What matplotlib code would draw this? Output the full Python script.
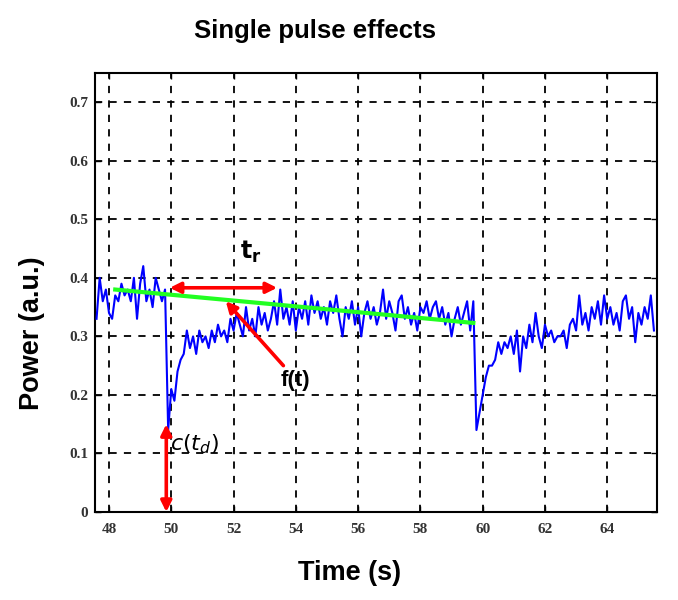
"""Single pulse effects: power trace with recovery fit and annotations."""

import matplotlib
matplotlib.use("Agg")
import matplotlib.pyplot as plt
import numpy as np

# Trace sampled every 0.1 s from 47.6 s to 65.5 s
t_start, t_step = 47.6, 0.1
power = [
    0.33, 0.40, 0.36, 0.38,                                      # 47.6-47.9
    0.34, 0.33, 0.37, 0.36, 0.39, 0.37, 0.38, 0.36, 0.40, 0.33,  # 48
    0.39, 0.42, 0.36, 0.38, 0.35, 0.40, 0.38, 0.36, 0.38, 0.14,  # 49
    0.21, 0.19, 0.24, 0.26, 0.27, 0.31, 0.28, 0.30, 0.27, 0.31,  # 50
    0.29, 0.30, 0.28, 0.31, 0.29, 0.32, 0.30, 0.31, 0.29, 0.33,  # 51
    0.31, 0.34, 0.32, 0.30, 0.35, 0.31, 0.33, 0.30, 0.35, 0.32,  # 52
    0.34, 0.31, 0.33, 0.36, 0.32, 0.38, 0.33, 0.35, 0.32, 0.36,  # 53
    0.31, 0.35, 0.33, 0.36, 0.32, 0.37, 0.34, 0.36, 0.33, 0.35,  # 54
    0.32, 0.36, 0.34, 0.37, 0.33, 0.30, 0.35, 0.33, 0.36, 0.32,  # 55
    0.35, 0.30, 0.34, 0.36, 0.33, 0.35, 0.32, 0.34, 0.38, 0.33,  # 56
    0.36, 0.34, 0.31, 0.36, 0.37, 0.33, 0.35, 0.32, 0.34, 0.31,  # 57
    0.35, 0.34, 0.36, 0.33, 0.35, 0.36, 0.33, 0.35, 0.32, 0.34,  # 58
    0.30, 0.33, 0.35, 0.32, 0.34, 0.36, 0.31, 0.36, 0.14, 0.17,  # 59
    0.20, 0.23, 0.25, 0.25, 0.26, 0.29, 0.27, 0.29, 0.28, 0.30,  # 60
    0.27, 0.31, 0.24, 0.30, 0.28, 0.32, 0.29, 0.34, 0.30, 0.28,  # 61
    0.32, 0.30, 0.31, 0.29, 0.30, 0.30, 0.31, 0.28, 0.32, 0.33,  # 62
    0.31, 0.37, 0.32, 0.34, 0.31, 0.35, 0.33, 0.36, 0.32, 0.37,  # 63
    0.33, 0.35, 0.32, 0.34, 0.31, 0.36, 0.37, 0.33, 0.35, 0.29,  # 64
    0.34, 0.32, 0.35, 0.33, 0.37, 0.31,                          # 65.0-65.5
]
time = t_start + t_step * np.arange(len(power))

# Linear fit f(t) over the recovery window
fit_time = [48.2, 59.7]
fit_power = [0.38, 0.323]

# Annotation anchors (data units)
tr_span = (49.95, 53.4)
tr_level = 0.383
td_time = 49.84
td_depth = (0.0, 0.15)
ft_tail = (53.6, 0.25)
ft_tip = (51.75, 0.36)

x_ticks = [48, 50, 52, 54, 56, 58, 60, 62, 64]
y_ticks = [0, 0.1, 0.2, 0.3, 0.4, 0.5, 0.6, 0.7]

plt.rcParams["mathtext.fontset"] = "dejavusans"

fig = plt.figure(figsize=(6.78, 6.0), dpi=100)
ax = fig.add_axes([0.1401, 0.1467, 0.829, 0.7317])

ax.plot(time, power, color="#0000ff", lw=1.5, zorder=3)
ax.plot(fit_time, fit_power, color="#22ff22", lw=3, zorder=4)

arrow = dict(arrowstyle="<|-|>", color="red", lw=2.6, mutation_scale=16,
             shrinkA=0, shrinkB=0)
ax.annotate("", xy=(tr_span[1], tr_level), xytext=(tr_span[0], tr_level),
            arrowprops=arrow, zorder=5)
ax.annotate("", xy=(td_time, td_depth[1]), xytext=(td_time, td_depth[0]),
            arrowprops=arrow, zorder=5)
ax.annotate("", xy=ft_tip, xytext=ft_tail,
            arrowprops=dict(arrowstyle="-|>", color="red", lw=2.6,
                            mutation_scale=16, shrinkA=0, shrinkB=0),
            zorder=5)

ax.text(52.55, 0.445, r"$\mathbf{t}_{\mathbf{r}}$", fontsize=17,
        ha="center", va="center")
ax.text(54.0, 0.225, "f(t)", fontsize=16, fontweight="bold",
        family="Liberation Sans", ha="center", va="center")
ax.text(49.95, 0.115, r"$c(t_d)$", fontsize=16, ha="left", va="center")

ax.set_xlim(47.55, 65.6)
ax.set_ylim(0, 0.75)
ax.set_xticks(x_ticks)
ax.set_yticks(y_ticks)
ax.set_yticklabels([f"{v:g}" for v in y_ticks])
for lab in ax.get_xticklabels() + ax.get_yticklabels():
    lab.set_family("Liberation Serif")
    lab.set_fontweight("bold")
    lab.set_fontsize(11)
    lab.set_color("#333333")
ax.tick_params(direction="in", top=True, right=True, length=4, width=1)
ax.tick_params(axis="x", pad=8)
ax.tick_params(axis="y", pad=5)
ax.grid(True, color="black", linestyle=(0, (4, 4)), lw=1.3)
for sp in ax.spines.values():
    sp.set_linewidth(1.5)

fig.text(0.515, 0.045, "Time (s)", fontsize=19.5, fontweight="bold",
         family="Liberation Sans", ha="center", va="center")
fig.text(0.047, 0.445, "Power (a.u.)", fontsize=19.5, fontweight="bold",
         family="Liberation Sans", ha="center", va="center", rotation=90)
fig.text(0.465, 0.948, "Single pulse effects", fontsize=18.5,
         fontweight="bold", family="Liberation Sans", ha="center",
         va="center")

fig.savefig("out.png", dpi=100)
